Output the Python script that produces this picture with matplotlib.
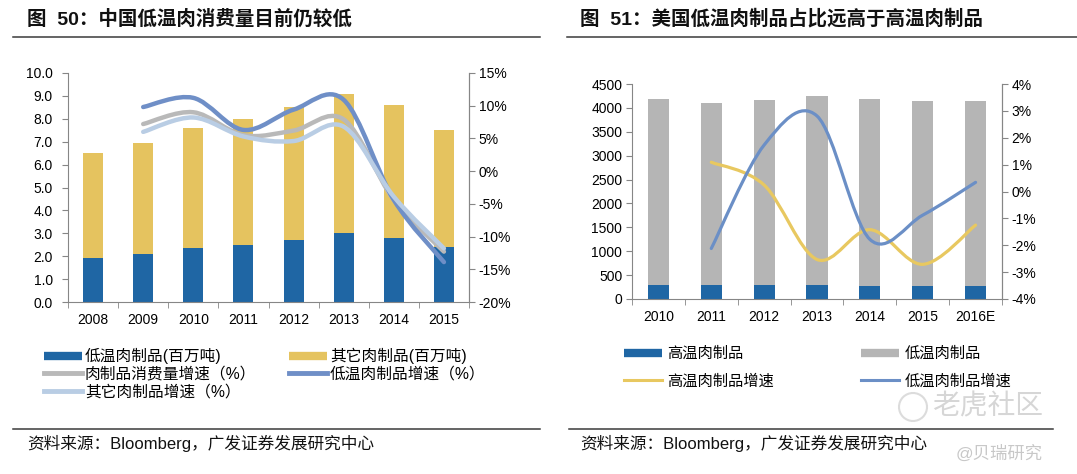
# Two side-by-side bar + smoothed growth line charts (China vs US low-temp meat)

import matplotlib
matplotlib.use('Agg')
import matplotlib.pyplot as plt
from matplotlib.path import Path
from matplotlib.patches import PathPatch, Ellipse
from matplotlib.lines import Line2D
from matplotlib.ticker import FuncFormatter, FixedLocator

plt.rcParams['font.family'] = ['Liberation Sans', 'Noto Sans CJK SC']

# ---- data: figure 50 (China) ----
years_cn = ['2008', '2009', '2010', '2011', '2012', '2013', '2014', '2015']
low_cn = [1.9, 2.1, 2.35, 2.5, 2.7, 3.0, 2.8, 2.4]
other_cn = [4.6, 4.85, 5.25, 5.5, 5.8, 6.1, 5.8, 5.1]
growth_years_cn = ['2009', '2010', '2011', '2012', '2013', '2014', '2015']
meat_growth_cn = [7.2, 9.0, 5.5, 6.2, 7.9, -4.4, -12.3]
low_growth_cn = [9.8, 11.2, 6.3, 9.4, 10.9, -4.4, -13.9]
other_growth_cn = [6.0, 8.2, 5.3, 4.6, 6.8, -3.9, -11.8]

# ---- data: figure 51 (US) ----
years_us = ['2010', '2011', '2012', '2013', '2014', '2015', '2016E']
high_us = [290, 290, 290, 290, 280, 275, 275]
low_us = [3890, 3805, 3875, 3965, 3905, 3860, 3870]
growth_years_us = ['2011', '2012', '2013', '2014', '2015', '2016E']
high_growth_us = [1.09, 0.24, -2.53, -1.42, -2.71, -1.25]
low_growth_us = [-2.12, 1.73, 2.81, -1.78, -0.88, 0.34]

W, H = 1077, 474
SPINE = '#868686'
DARK_BLUE = '#1f66a4'
YELLOW = '#e5c35f'
GRAY_BAR = '#b5b5b5'


def smooth_path(xs, ys):
    """Excel-like smoothed line through the points (Catmull-Rom as bezier)."""
    n = len(xs)
    verts = [(xs[0], ys[0])]
    codes = [Path.MOVETO]
    for i in range(n - 1):
        a = i - 1 if i > 0 else i
        d = i + 2 if i + 2 < n else i + 1
        c1 = (xs[i] + (xs[i + 1] - xs[a]) / 6, ys[i] + (ys[i + 1] - ys[a]) / 6)
        c2 = (xs[i + 1] - (xs[d] - xs[i]) / 6, ys[i + 1] - (ys[d] - ys[i]) / 6)
        verts += [c1, c2, (xs[i + 1], ys[i + 1])]
        codes += [Path.CURVE4] * 3
    return Path(verts, codes)


def add_axes_px(fig, x0, y0, x1, y1):
    return fig.add_axes([x0 / W, 1 - y1 / H, (x1 - x0) / W, (y1 - y0) / H])


def style_axes(ax, ax2, ncat, ypad):
    ax.set_xlim(-0.5, ncat - 0.5)
    ax.xaxis.set_minor_locator(FixedLocator([i - 0.5 for i in range(ncat + 1)]))
    ax.tick_params(axis='x', which='major', length=0, pad=8, labelsize=10)
    ax.tick_params(axis='x', which='minor', length=4, color=SPINE)
    ax.tick_params(axis='y', length=4, color=SPINE, labelsize=10, pad=ypad)
    ax2.tick_params(axis='y', length=4, color=SPINE, labelsize=10, pad=3)
    for a in (ax, ax2):
        a.spines['top'].set_visible(False)
        for s in ('left', 'right', 'bottom'):
            a.spines[s].set_color(SPINE)
    ax2.spines['left'].set_visible(False)
    ax2.spines['bottom'].set_visible(False)


def figline(fig, x0, x1, y):
    fig.add_artist(Line2D([x0 / W, x1 / W], [1 - y / H, 1 - y / H],
                          color='#3a3a3a', lw=1.1))


fig = plt.figure(figsize=(W / 100, H / 100), dpi=100)

# ================= left chart =================
ax = add_axes_px(fig, 68, 73, 469, 302)
ax2 = ax.twinx()
x = list(range(len(years_cn)))
ax.bar(x, low_cn, width=0.4, color=DARK_BLUE)
ax.bar(x, other_cn, width=0.4, bottom=low_cn, color=YELLOW)
ax.set_xticks(x)
ax.set_xticklabels(years_cn)
ax.set_ylim(0, 10)
ax.set_yticks([i for i in range(11)])
ax.yaxis.set_major_formatter(FuncFormatter(lambda v, p: '%.1f' % v))
ax2.set_ylim(-20, 15)
ax2.set_yticks(range(-20, 16, 5))
ax2.yaxis.set_major_formatter(FuncFormatter(lambda v, p: '%d%%' % v))
style_axes(ax, ax2, len(years_cn), 7)

gx = [years_cn.index(y) for y in growth_years_cn]
for vals, col in [(meat_growth_cn, '#b9b9b9'),
                  (low_growth_cn, '#6f8fc7'),
                  (other_growth_cn, '#b9cde4')]:
    ax2.add_patch(PathPatch(smooth_path(gx, vals), fill=False, edgecolor=col,
                            lw=3.2, capstyle='round'))

# legend (two columns placed by hand)
h_low = Line2D([], [], color=DARK_BLUE, lw=6, solid_capstyle='butt')
h_other = Line2D([], [], color=YELLOW, lw=6, solid_capstyle='butt')
h_meat_g = Line2D([], [], color='#b9b9b9', lw=3.5)
h_low_g = Line2D([], [], color='#6f8fc7', lw=3.5)
h_other_g = Line2D([], [], color='#b9cde4', lw=3.5)
leg_kw = dict(loc='upper left', frameon=False, fontsize=11.3, handlelength=2.4,
              handletextpad=0.2, labelspacing=0.17, borderaxespad=0,
              borderpad=0)
fig.legend([h_low, h_meat_g, h_other_g],
           ['低温肉制品(百万吨)', '肉制品消费量增速（%）', '其它肉制品增速（%）'],
           bbox_to_anchor=(44 / W, 1 - 348 / H), **leg_kw)
fig.legend([h_other, h_low_g],
           ['其它肉制品(百万吨)', '低温肉制品增速（%）'],
           bbox_to_anchor=(289 / W, 1 - 348 / H), **leg_kw)

fig.text(27 / W, 1 - 19 / H, '图  50：中国低温肉消费量目前仍较低', fontsize=14,
         fontweight='bold', va='center', color='#111111')
figline(fig, 13, 540, 37)
figline(fig, 13, 540, 429)
fig.text(27 / W, 1 - 443 / H, '资料来源：Bloomberg，广发证券发展研究中心',
         fontsize=12, va='center', color='#111111')

# ================= right chart =================
bx = add_axes_px(fig, 632, 84, 1002, 299)
bx2 = bx.twinx()
x = list(range(len(years_us)))
bx.bar(x, high_us, width=0.4, color=DARK_BLUE)
bx.bar(x, low_us, width=0.4, bottom=high_us, color=GRAY_BAR)
bx.set_xticks(x)
bx.set_xticklabels(years_us)
bx.set_ylim(0, 4500)
bx.set_yticks(range(0, 4501, 500))
bx2.set_ylim(-4, 4)
bx2.set_yticks(range(-4, 5))
bx2.yaxis.set_major_formatter(FuncFormatter(lambda v, p: '%d%%' % v))
style_axes(bx, bx2, len(years_us), 3)

gx = [years_us.index(y) for y in growth_years_us]
bx2.add_patch(PathPatch(smooth_path(gx, high_growth_us), fill=False,
                        edgecolor='#e8c860', lw=2.3, capstyle='round'))
bx2.add_patch(PathPatch(smooth_path(gx, low_growth_us), fill=False,
                        edgecolor='#6b8fc6', lw=2.3, capstyle='round'))

h_high = Line2D([], [], color=DARK_BLUE, lw=6, solid_capstyle='butt')
h_lowb = Line2D([], [], color=GRAY_BAR, lw=6, solid_capstyle='butt')
h_high_g = Line2D([], [], color='#e8c860', lw=2.2)
h_low_g2 = Line2D([], [], color='#6b8fc6', lw=2.2)
leg_kw2 = dict(leg_kw, fontsize=11, labelspacing=0.85, handlelength=2.5,
               handletextpad=0.35)
fig.legend([h_high, h_high_g], ['高温肉制品', '高温肉制品增速'],
           bbox_to_anchor=(624 / W, 1 - 347 / H), **leg_kw2)
fig.legend([h_lowb, h_low_g2], ['低温肉制品', '低温肉制品增速'],
           bbox_to_anchor=(861 / W, 1 - 347 / H), **leg_kw2)

fig.text(580 / W, 1 - 19 / H, '图  51：美国低温肉制品占比远高于高温肉制品',
         fontsize=14, fontweight='bold', va='center', color='#111111')
figline(fig, 567, 1077, 37)
figline(fig, 569, 1053, 429)
fig.text(580 / W, 1 - 443 / H, '资料来源：Bloomberg，广发证券发展研究中心',
         fontsize=12, va='center', color='#111111')

# watermark
fig.add_artist(Ellipse((913 / W, 1 - 407 / H), 28 / W, 28 / H,
                       transform=fig.transFigure, fill=False,
                       edgecolor='#dcdcdc', lw=1.5))
fig.text(1043 / W, 1 - 407 / H, '老虎社区', fontsize=20, color='#d6d6d6',
         ha='right', va='center')
fig.text(1043 / W, 1 - 453 / H, '@贝瑞研究', fontsize=12.5, color='#c8c8c8',
         ha='right', va='center')

fig.savefig('out.png', dpi=100)
